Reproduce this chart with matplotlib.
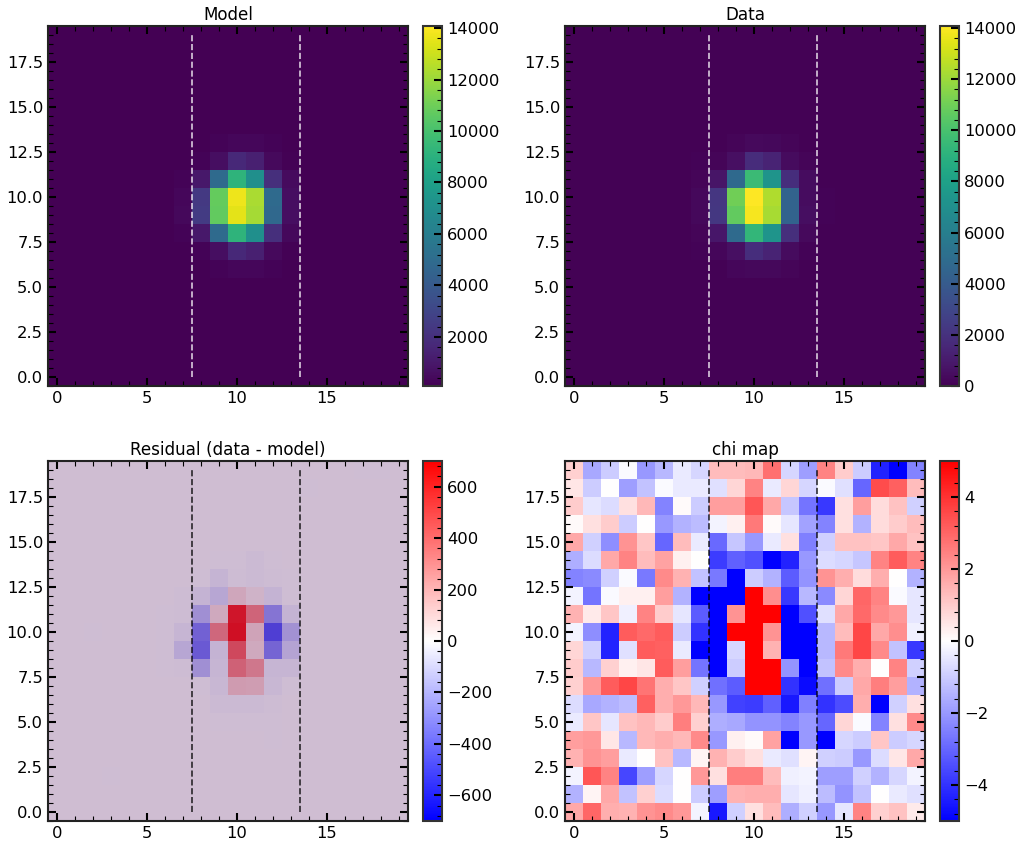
import numpy as np
import matplotlib
matplotlib.use("Agg")
import matplotlib.pyplot as plt
from matplotlib.cm import ScalarMappable
from matplotlib.colors import Normalize
from matplotlib.ticker import AutoMinorLocator, MultipleLocator

W, H = 1022, 849

# central cutouts, columns x=5..14, rows y=14 down to y=5
model_core = [
    [90, 90, 90, 90, 95, 100, 100, 95, 90, 90],
    [90, 90, 90, 110, 240, 340, 340, 220, 110, 90],
    [90, 90, 130, 240, 600, 1700, 1300, 450, 180, 95],
    [90, 95, 200, 1000, 4900, 9200, 7050, 2000, 500, 100],
    [90, 110, 350, 2400, 10800, 13750, 12300, 4900, 600, 120],
    [90, 110, 380, 2500, 10700, 13500, 12200, 4800, 600, 120],
    [90, 95, 220, 1000, 4900, 9200, 7050, 1950, 400, 100],
    [90, 90, 130, 240, 600, 1700, 1300, 450, 160, 95],
    [90, 90, 90, 110, 240, 340, 320, 220, 100, 90],
    [90, 90, 90, 90, 95, 100, 95, 95, 90, 90],
]
data_core = [
    [60, 60, 60, 65, 75, 85, 80, 75, 65, 60],
    [60, 60, 65, 90, 210, 330, 325, 210, 95, 65],
    [60, 65, 120, 200, 600, 1800, 1400, 400, 175, 75],
    [60, 85, 190, 800, 4800, 9600, 7300, 1850, 460, 100],
    [60, 100, 320, 2200, 11000, 14050, 12400, 4500, 440, 120],
    [60, 95, 290, 2300, 10700, 13900, 12250, 4500, 500, 120],
    [60, 85, 210, 830, 4870, 9300, 7300, 1900, 370, 100],
    [60, 65, 130, 235, 575, 1830, 1420, 425, 155, 75],
    [60, 60, 70, 100, 225, 325, 305, 210, 90, 65],
    [60, 60, 60, 65, 80, 90, 85, 80, 65, 60],
]
resid_core = [
    [0, 0, 0, 0, -3, -3, -12, -3, 0, 0],
    [0, 0, 0, -3, -35, -10, -15, -10, -3, 0],
    [0, 0, -8, -40, -90, 90, 40, -40, -5, 0],
    [0, -2, -10, -170, 80, 620, 330, -270, -40, 0],
    [0, -2, -30, -340, 320, 640, 100, -470, -160, 0],
    [0, -3, -90, -370, -40, 430, 80, -330, -100, 0],
    [0, -2, -10, -170, -30, 340, 260, -30, -30, 0],
    [0, 0, 0, -3, -25, 130, 120, -25, -3, 0],
    [0, 0, 0, 0, -12, -12, -12, -8, 0, 0],
    [0, 0, 0, 0, -3, -3, -3, -3, 0, 0],
]
# faint isolated residual cells outside the cutout
faint_x = [2, 3, 12, 14, 17, 18]
faint_y = [10, 2, 4, 18, 19, 19]
faint_v = [-3, -3, -5, -2, -2, -2]
# rows y=19 down to y=0
chi_rows = [
    [0.9, -1.7, -1, -0.1, -2, -1.4, -0.4, -0.8, 1.3, 1.3, 1.4, 2.8, -0.8, -1.9, 2.4, 1, -1, -4.3, -5, -2.4],
    [0.5, -1, 0, -1.9, -1.2, -0.1, -0.4, -0.4, -0.6, 0.8, 2.4, -0.4, 0.8, -0.8, -0.1, -0.6, -3, 3.5, 3.1, 1.3],
    [1, -0.5, -0.7, 0.6, 1.4, -2.4, 0.1, -1, 1.9, 1.9, 3.3, 1.7, -1.1, -2.7, -3.9, 0.6, 1.9, 0.7, 1.2, -0.9],
    [0.1, 0.6, 1, -1, 0, -2, -1.5, -1.3, -0.2, 0.3, 2.6, 0.1, -0.5, -1.8, -2.4, 0.6, -1.5, 0.7, 1, 1.3],
    [1.7, -0.9, -2.2, 2.1, 1.1, -3, 1.3, -0.4, -2.9, -1.1, -2, -0.4, 0.6, -2.5, -0.9, 1.2, 1.2, 1.1, 1.7, 1.2],
    [-1.6, -0.7, 1.7, 2.4, 1.3, 1.8, 0.3, 0, -3.8, -3.1, -3.4, -5, -4.3, -2, -0.7, -0.8, -1.1, 2.4, 3.2, 2.4],
    [-2.4, -2.3, -0.9, -0.1, -2.6, 2.3, 1.5, -1.2, -2.6, -5, -1, -1.5, -3.2, -2.1, 2.1, 1.6, 0.7, 1.6, 0, -1.5],
    [-0.2, -2.7, -0.1, 0.3, 0.3, 1.9, -1.5, -5, -5, -5, 5, 2.2, -3.9, -1.4, -2.3, 0.8, 3, 2.4, -0.1, -0.5],
    [1.5, 0.4, 1.1, -0.3, 2.4, 1, -0.5, -3.2, -5, 2.1, 5, 5, -5, -3.4, -0.6, 1.7, 2.9, 2.3, 2, -0.5],
    [-0.2, -2.2, -4.3, 3.2, 2.9, 3.2, -1, -4, -5, 5, 5, 2.1, -5, -5, -1.4, 1.3, 3.6, 1.7, 2.2, -0.3],
    [0.8, -0.9, -4.3, -0.6, 3.2, 3.1, -0.4, -5, -5, -0.8, 5, 1.5, -5, -5, -1.4, 2.6, 3.6, 2.3, -1.2, -3.9],
    [1, -1.4, 0.9, 0.3, 0.5, 3.2, 1.9, -2.7, -5, -1, 5, 5, -2.1, -5, -1.2, 2.3, 1.6, 0, 2.4, -0.9],
    [0.9, 2, 3.2, 3.6, 2.7, 1.6, 1.1, -0.9, -2.8, -3.2, 5, 5, -4, -4.8, -2.8, -1, 1.7, 2.5, 1.9, -1.5],
    [-0.7, -1.7, -1.5, -1.3, 3.1, 1.6, 2, 1.4, -2, -3.7, -3.8, -3.1, -4.5, -2.5, -4, -3.5, 1.6, -5, -0.9, 0.6],
    [-0.4, 1.1, -0.5, 1.2, 1.4, 1, 2.5, 0.9, -1.6, -1.7, -2.1, -2.1, -2.4, -2, -3, 0.8, -0.1, -2.4, 0.6, 2.3],
    [1.9, 2, 0.5, -1.4, 1.4, 1.6, 1.4, 2.3, -2, 0.3, 0.1, 1.8, -5, -2, -5, -0.8, -1, 1.1, -1, -0.8],
    [1.5, 2.1, 1.9, -0.4, 0, 1.2, -1.4, 0.2, 1.5, 1, 0.6, -0.4, -0.6, 0.2, -0.9, -1, -2, -0.7, 0.5, 1.7],
    [-0.2, 3.3, 2.4, -3.6, -1.9, -0.8, 0, 2, 0.6, 2.5, 2.5, 1.3, -0.3, -0.2, -1.9, -1.9, -0.9, -1.5, -0.8, -0.2],
    [-1.5, 0.2, 1.7, -1.2, 0.9, -0.7, 0, -1, -1.9, 1.5, 1.6, 1.6, -0.5, -0.3, -1.3, -2.1, -1.2, 0, -0.4, -0.6],
    [1.7, 3, 1.6, 1.5, 2.1, 2.3, 2, -0.2, -4.5, -0.9, 0.6, 1.3, -1.6, -0.9, -2, -0.5, 2.4, 0.9, 1.2, 0.4],
]
model_bg = 90
data_bg = 60
resid_bg = 0

plt.rcParams.update({"font.size": 11.8, "axes.linewidth": 1.5, "axes.edgecolor": "#222222"})


def paste(core, bg):
    img = np.full((20, 20), float(bg))
    img[5:15, 5:15] = np.array(core, dtype=float)[::-1]
    return img


def style_ticks(ax):
    ax.xaxis.set_major_locator(MultipleLocator(5))
    ax.yaxis.set_major_locator(MultipleLocator(2.5))
    ax.xaxis.set_minor_locator(AutoMinorLocator(5))
    ax.yaxis.set_minor_locator(AutoMinorLocator(5))
    ax.tick_params(which="both", direction="in", top=True, right=True, labelsize=11.8)
    ax.tick_params(which="major", length=6, width=1.5)
    ax.tick_params(which="minor", length=3.5, width=0.8)


def style_cbar(cb):
    cb.ax.yaxis.set_minor_locator(AutoMinorLocator(5))
    cb.ax.tick_params(which="both", direction="in", labelsize=11.8, right=True)
    cb.ax.tick_params(which="major", length=6, width=1.5)
    cb.ax.tick_params(which="minor", length=3.5, width=0.8)
    cb.outline.set_linewidth(1.5)
    cb.outline.set_edgecolor("#333333")


def px_axes(x0, y0, x1, y1):
    return fig.add_axes([x0 / W, 1 - y1 / H, (x1 - x0) / W, (y1 - y0) / H])


resid_img = paste(resid_core, resid_bg)
resid_img[faint_y, faint_x] = faint_v

fig = plt.figure(figsize=(W / 100, H / 100), dpi=100)
panels = [
    ("Model", paste(model_core, model_bg), "viridis", 90, 14080, (48, 26), "white", None),
    ("Data", paste(data_core, data_bg), "viridis", 0, 14080, (565, 26), "white", None),
    ("Residual (data - model)", resid_img, "bwr", -700, 700, (48, 461), "black", 0.75),
    ("chi map", np.array(chi_rows)[::-1], "bwr", -5, 5, (565, 461), "black", None),
]
for title, img, cmap, vmin, vmax, (px, py), line_color, alpha in panels:
    ax = px_axes(px, py, px + 360, py + 360)
    if alpha is not None:
        ax.set_facecolor("#440154")
    ax.imshow(img, origin="lower", cmap=cmap, vmin=vmin, vmax=vmax, alpha=alpha, interpolation="nearest")
    ax.plot([7.5, 7.5], [0, 19], "--", color=line_color, lw=1.2, alpha=0.8)
    ax.plot([13.5, 13.5], [0, 19], "--", color=line_color, lw=1.2, alpha=0.8)
    ax.set_title(title, fontsize=12.1, pad=4)
    style_ticks(ax)
    cax = px_axes(px + 375, py, px + 394, py + 360)
    cb = fig.colorbar(ScalarMappable(Normalize(vmin, vmax), cmap), cax=cax)
    style_cbar(cb)

fig.savefig("out.png", dpi=100)
